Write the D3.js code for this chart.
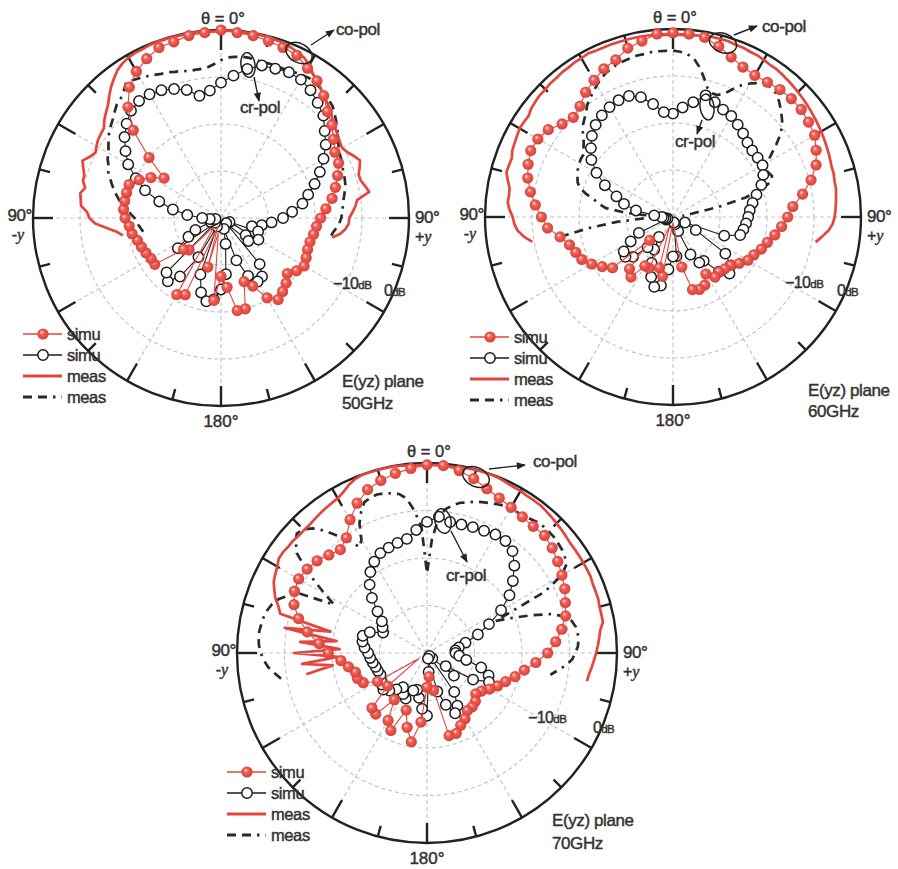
<!DOCTYPE html>
<html><head><meta charset="utf-8">
<script src="https://cdn.jsdelivr.net/npm/d3@7"></script>
<style>
body{margin:0;background:#fff}
svg{display:block}
text{font-family:"Liberation Sans",Arial,sans-serif;fill:#333;stroke:#333;stroke-width:0.45px}
</style>
</head><body>
<svg id="chart" width="898" height="869"></svg>
<script>
// ---------------- DATA (gain in dB, -40 .. 0) ----------------
// simulated patterns: theta = 0,5,...,355 deg (clockwise from top)
const simuAngles = d3.range(0, 360, 5);
// measured patterns: theta = -100 .. +100 deg, step 2.5
const measStart = -100, measStep = 2.5;

const simuCo50 = [
  0,-0.4,-0.6,-1,-1.4,-1.8,-3.2,-4.4,-6,-8,-9.2,-10.8,
  -12,-12.4,-13.6,-14.8,-16,-17.6,-18.8,-19.6,-20,-20.4,-20.4,-20,
  -19.6,-20.4,-21.6,-20.4,-19.6,-18.8,-20.4,-24,-25.6,-20,-20,-25.2,
  -27.6,-22.4,-36.8,-29.2,-38,-22,-21.2,-36,-37.6,-30.4,-29.6,-22.8,
  -22.8,-22.4,-22,-21.6,-20.8,-20.4,-19.6,-19.2,-19.2,-19.2,-19.2,-20.8,
  -22.8,-25.2,-20,-13.6,-9.2,-6,-4,-2.6,-1.4,-1.2,-0.6,-0.4];
const simuCr50 = [
  -11.2,-9.6,-7.8,-6.4,-6.2,-5.8,-6,-6.8,-8,-9.2,-11.2,-12.8,
  -14.8,-16.8,-18.8,-20.8,-22.4,-24.8,-26.8,-29.2,-31.2,-33.2,-31.6,-38,
  -30.8,-33.6,-32.4,-38.4,-27.2,-24.8,-24.4,-26.4,-30.4,-37.6,-34.4,-28,
  -24.8,-22.6,-22,-23.6,-27.2,-38,-30.4,-24.8,-22.4,-23.6,-38.4,-28.8,
  -32,-34,-37.6,-38.4,-38.8,-37.6,-36,-32.8,-29.6,-26.4,-22.8,-20,
  -17.2,-15.2,-13.2,-11.6,-10.2,-9.6,-9.6,-10,-10.8,-11.8,-13.6,-12.8];
const measCo50 = [
  -18.8,-17.6,-15.6,-13.2,-12,-11.5,-10.1,-9.9,-9.6,
  -10.4,-9.6,-9.5,-8.8,-8.1,-9.2,-9.9,-9.4,-9.0,
  -8.8,-8.6,-7.6,-6.8,-6,-4.8,-3.6,-2.6,-1.6,
  -1,-0.6,-0.4,-0.4,-0.2,-0.1,-0.2,-0.1,-0.2,
  -0.2,-0.1,-0.2,-0.3,-0.2,-0.1,-0.2,-0.2,-0.1,
  -0.2,-0.2,-0.4,-0.4,-0.8,-1.2,-1.6,-2.4,-3.6,
  -4.4,-5.2,-6,-6.6,-7.2,-8,-8.8,-9.2,-9.6,
  -10,-10.2,-9.7,-8.8,-8,-8.6,-9.3,-9.2,-8.6,
  -8,-10.8,-11.3,-12,-12.7,-12.8,-13.4,-14.4,-16];
const measCr50 = [
  -23.2,-22.8,-22.4,-22,-21.6,-20.8,-20,-18.8,-18,
  -17.2,-16.4,-15.6,-14.8,-14,-13.6,-12.8,-12.4,-11.6,
  -10.8,-10,-9.4,-8.8,-8,-7.2,-6.8,-6,-4.8,
  -5.2,-5.6,-6,-6.4,-6.8,-7,-7.4,-7.6,-8,
  -8,-8,-7.8,-7.2,-6.4,-5.8,-5.6,-5.4,-5.4,
  -5.6,-5.6,-5.6,-5.6,-5.6,-5.4,-5.2,-5,-4.8,
  -5,-5.2,-5.6,-6,-6.4,-7.2,-8,-8.8,-9.6,
  -10.4,-11,-11.4,-11.6,-12,-12.2,-12.4,-12.6,-13,
  -13.4,-13.8,-14,-14.2,-14.4,-14.8,-15.4,-16,-16.4];

const simuCo60 = [
  -0.8,-0.9,-1.2,-2.4,-3.8,-4.8,-5.2,-5,-4.6,-4.4,-4.4,-4.8,
  -5.2,-6.4,-7.6,-9.6,-12,-14.4,-15.6,-16.8,-18,-19.2,-20,-21,
  -21.6,-22.8,-24,-24.4,-24.8,-24.4,-26,-24,-23.6,-24,-29.2,-38,
  -38.8,-38,-27.2,-28.8,-38,-28,-28,-24.4,-25.6,-33,-23.2,-21.6,
  -20,-18.6,-18,-17.2,-15.6,-13.2,-12,-10.6,-9.2,-8,-7.2,-6.6,
  -6.8,-7.6,-9.2,-10,-9.2,-7.6,-6.4,-5.2,-4.4,-2.8,-2,-0.9];
const simuCr60 = [
  -18,-16.6,-15.2,-13.2,-14,-14.8,-15.2,-16,-16.8,-17.6,-18,-18,
  -18,-18.8,-20,-21.6,-22.8,-23.6,-24,-24.4,-24.8,-25.2,-28.4,-37.2,
  -34.4,-26.4,-24,-23,-24.8,-28.6,-28.8,-31.2,-36.8,-38.4,-38.8,-31.6,
  -31.6,-28.8,-25.2,-24.6,-26.4,-29.2,-32,-34.8,-31.6,-28,-26.8,-27.2,
  -29.6,-32,-38.4,-38.8,-38.4,-38,-37.6,-36,-32,-29.2,-27.2,-24,
  -21.2,-18.8,-17.2,-15.6,-14.4,-13.6,-13,-12.6,-12.6,-13.6,-15.6,-17.6];
const measCo60 = [
  -9.6,-8,-6.8,-6.2,-5.9,-5.2,-4.7,-4.8,-4.7,
  -4,-3.3,-3.4,-3.5,-3,-2.8,-2.6,-2.3,-2.4,
  -2.5,-2,-1.8,-1.6,-1.6,-1.4,-1.4,-1.2,-1.2,
  -1,-1,-0.8,-1,-1,-1,-1,-1,-1,
  -1,-1,-1.2,-1.2,-1.2,-1.2,-1.2,-1,-1,
  -0.8,-0.8,-0.8,-1,-1,-1.2,-1.2,-1.4,-1.6,
  -1.6,-1.8,-2,-2.2,-2.4,-2.6,-2.8,-3,-3.2,
  -3.4,-3.6,-3.8,-4,-4.2,-4.4,-4.6,-4.6,-4.8,
  -4.8,-5,-5.2,-5.4,-5.6,-6,-6.8,-8,-9.2];
const measCr60 = [
  -15.6,-22,-28,-34,-38.8,-36,-30,-25.6,-24,
  -22.8,-20.8,-19.2,-18.4,-18,-17.6,-17.2,-17,-16.8,
  -16.8,-16,-15.2,-14,-12.8,-12,-11.2,-10,-9.2,
  -8.4,-7.6,-6.8,-6.2,-5.8,-5.4,-5.2,-5,-4.8,
  -4.8,-4.6,-4.6,-4.6,-4.6,-4.8,-5.2,-6,-7.6,
  -9.6,-11.6,-12.4,-12.4,-11.6,-10,-8.4,-7.2,-6.2,
  -5.4,-5.4,-5.8,-6.6,-7.6,-8.6,-9.6,-11.2,-13.2,
  -15.2,-16.8,-18,-17.6,-17.2,-17.8,-20,-24,-30,
  -36,-38];

const simuCo70 = [
  -0.4,-0.4,-1,-2,-3.2,-4,-4.6,-5,-5.2,-5,-5.6,-6.4,
  -7.2,-8,-9,-9.8,-11.2,-12.8,-14.6,-17,-19.2,-20.8,-22.4,-23.6,
  -24.8,-26,-26.6,-25.6,-25.2,-25.2,-24,-23.2,-22,-22,-32,-35,
  -32.8,-25.4,-21,-23.8,-27.2,-22,-23.6,-28,-23.2,-23.6,-29.2,-38,
  -28,-25.2,-24.4,-24.4,-23.2,-21.8,-19.2,-17.2,-14.4,-12,-10.2,-9.2,
  -8.8,-9.2,-9.8,-10.8,-11.6,-10.4,-7.6,-5.2,-3.4,-2.4,-1.6,-1];
const simuCr70 = [
  -12.4,-11.2,-12,-12,-11.8,-11.6,-11.2,-11.2,-12,-14,-16.4,-18.8,
  -22,-25.6,-28.6,-31.6,-33.2,-34,-34,-33.2,-31.6,-28.2,-26.2,-25.6,
  -28.8,-35.2,-32.6,-38.4,-39.2,-30,-27.2,-26,-28.4,-31.6,-38.8,-36,
  -26.8,-28.2,-30.4,-32,-31.6,-29.4,-30,-31.2,-30,-28.8,-28,-28.4,
  -28.8,-29.2,-29,-28.8,-28.4,-28,-27.6,-26.8,-26.2,-26,-27.2,-29.8,
  -29.2,-28.4,-26.4,-23.6,-21.2,-19.2,-17.8,-16.8,-16.4,-16,-15.6,-14];
const measCo70 = [
  -14.2,-20,-13.6,-21.2,-12,-21.6,-13.2,-20.8,-9.6,
  -19.2,-8,-7.2,-6,-5.2,-4.4,-4,-3.6,-3,
  -3,-3.2,-3.2,-3.4,-3.4,-3.4,-3.2,-3,-2.8,
  -2.6,-2.4,-1.8,-1,-0.4,-0.1,-0.1,-0.1,-0.1,
  -0.1,-0.2,-0.4,-0.4,-0.4,-0.4,-0.4,-0.4,-0.4,
  -0.2,-0.1,-0.1,-0.1,-0.2,-0.4,-0.6,-0.6,-0.8,
  -0.8,-0.8,-1,-1.2,-1.4,-1.6,-1.8,-2,-2,
  -2,-2,-2,-2,-2.2,-2.2,-2.2,-2.4,-2.4,
  -2.4,-3.2,-3.6,-4,-4.4,-4.8,-5.2,-5.6,-5.8];
const measCr70 = [
  -8.8,-7.6,-6.4,-5.6,-5,-4.6,-4.4,-4.4,-4.6,
  -4.8,-5.2,-5.8,-6.8,-8.4,-10.4,-18,-15.2,-12,
  -8.8,-5.4,-4,-2.8,-3.2,-4.4,-6.4,-8.8,-10.8,
  -13.6,-12.4,-9.2,-7.2,-5.6,-5.2,-5,-5.2,-5.6,
  -6,-7.2,-10,-13.6,-23.2,-16,-11.2,-9.4,-8.4,
  -7.6,-7.2,-6.6,-6.2,-5.8,-5.4,-5,-5,-4.8,
  -4.8,-4.4,-4,-3.8,-3.8,-3.8,-4,-4.2,-4.6,
  -5.2,-7.2,-12,-24,-20.8,-16.8,-12.8,-10,-8.8,
  -8.2,-8,-8,-8.2,-8.8,-9.4,-10.6,-12.2,-13.6];

// axis definitions
const dbDomain = [-40, 0];
const ringDb = [-30, -20, -10];
const spokeAngles = d3.range(0, 360, 30);
const tickAngles = d3.range(0, 360, 15);
const legendLabels = ["simu", "simu", "meas", "meas"];
const freqLabels = ["50GHz", "60GHz", "70GHz"];

// ---------------- LAYOUT ----------------
const panels = [
  {cx:221, cy:218, R:188, data:[simuCo50, simuCr50, measCo50, measCr50], freq:freqLabels[0],
   leg:[23,334], title:[342,387,409], m10:[333,289], z0:[384,296],
   coEll:[299,53,14,9.5,28], coArrow:[[311,45],[334,30]], coText:[336,35],
   crEll:[248,65,7,12.5,-8], crArrow:[[254,77],[259,101]], crText:[240,113]},
  {cx:673, cy:217, R:188, data:[simuCo60, simuCr60, measCo60, measCr60], freq:freqLabels[1],
   leg:[470,337], title:[808,396,417], m10:[785,288], z0:[837,296],
   coEll:[723,43,14,9.5,20], coArrow:[[734,35],[757,26]], coText:[762,32],
   crEll:[707,107,7,13,-8], crArrow:[[702,120],[697,134]], crText:[675,147]},
  {cx:427, cy:653, R:190, data:[simuCo70, simuCr70, measCo70, measCr70], freq:freqLabels[2],
   leg:[227,772], title:[552,826,849], m10:[528,723], z0:[593,733],
   coEll:[476,477,14,9.5,25], coArrow:[[489,469],[525,465]], coText:[533,467],
   crEll:[443,521,8,12.5,-12], crArrow:[[451,531],[467,562]], crText:[446,581]}
];

const RED = "#e2463e", BLACK = "#1c1c1c", GRID = "#c2c5cd";

const svg = d3.select("#chart");
const defs = svg.append("defs");
const grad = defs.append("radialGradient").attr("id","ball")
  .attr("cx","50%").attr("cy","50%").attr("r","55%").attr("fx","36%").attr("fy","32%");
grad.append("stop").attr("offset","0%").attr("stop-color","#ffe3df");
grad.append("stop").attr("offset","35%").attr("stop-color","#f06258");
grad.append("stop").attr("offset","100%").attr("stop-color","#d23b33");
defs.append("marker").attr("id","arrow").attr("viewBox","0 0 10 10")
  .attr("refX",9).attr("refY",5).attr("markerWidth",10).attr("markerHeight",9)
  .attr("markerUnits","userSpaceOnUse").attr("orient","auto")
  .append("path").attr("d","M0,1 L10,5 L0,9 Z").attr("fill","#222");

const rad = a => a * Math.PI / 180;

function drawPanel(p) {
  const g = svg.append("g").attr("transform", `translate(${p.cx},${p.cy})`);
  const r = d3.scaleLinear().domain(dbDomain).range([0, p.R]).clamp(true);
  const pt = (a, rr) => [rr * Math.sin(rad(a)), -rr * Math.cos(rad(a))];

  // grid
  g.selectAll("circle.ring").data(ringDb).join("circle").attr("class","ring")
    .attr("r", d => r(d)).attr("fill","none").attr("stroke",GRID)
    .attr("stroke-width",1.2).attr("stroke-dasharray","4,3");
  g.selectAll("line.spoke").data(spokeAngles).join("line").attr("class","spoke")
    .attr("x1",0).attr("y1",0)
    .attr("x2", d => pt(d, r(0))[0]).attr("y2", d => pt(d, r(0))[1])
    .attr("stroke",GRID).attr("stroke-width",1.2).attr("stroke-dasharray","4,3");
  g.append("circle").attr("r",3.2).attr("fill","#c4c4c8");

  // outer circle + ticks
  g.append("circle").attr("r", r(0)).attr("fill","none").attr("stroke","#222").attr("stroke-width",2.4);
  g.selectAll("line.tick").data(tickAngles).join("line").attr("class","tick")
    .attr("x1", d => pt(d, r(0))[0]).attr("y1", d => pt(d, r(0))[1])
    .attr("x2", d => pt(d, r(0) - (d % 30 === 0 ? 20 : 11))[0])
    .attr("y2", d => pt(d, r(0) - (d % 30 === 0 ? 20 : 11))[1])
    .attr("stroke","#222").attr("stroke-width",2.4);

  const [sCo, sCr, mCo, mCr] = p.data;
  const simuPts = arr => arr.map((v, i) => ({a: simuAngles[i], v}));
  const measPts = arr => arr.map((v, i) => ({a: measStart + i * measStep, v}));
  const lineOpen = d3.lineRadial().angle(d => rad(d.a)).radius(d => r(d.v));
  const lineClosed = d3.lineRadial().angle(d => rad(d.a)).radius(d => r(d.v)).curve(d3.curveLinearClosed);

  // measured cross-pol (dashed)
  g.append("path").attr("d", lineOpen(measPts(mCr))).attr("fill","none")
    .attr("stroke","#2a2a2a").attr("stroke-width",2.7)
    .attr("stroke-dasharray","9,6,9,6,2.5,6");
  // measured co-pol (solid red)
  g.append("path").attr("d", lineOpen(measPts(mCo))).attr("fill","none")
    .attr("stroke",RED).attr("stroke-width",2.7).attr("stroke-linejoin","round");

  // simulated cross-pol
  const crP = simuPts(sCr);
  g.append("path").attr("d", lineClosed(crP)).attr("fill","none")
    .attr("stroke",BLACK).attr("stroke-width",1.1);
  g.selectAll("circle.cr").data(crP).join("circle").attr("class","cr")
    .attr("cx", d => pt(d.a, r(d.v))[0]).attr("cy", d => pt(d.a, r(d.v))[1])
    .attr("r",5.2).attr("fill","#fff").attr("stroke",BLACK).attr("stroke-width",1.5);

  // simulated co-pol
  const coP = simuPts(sCo);
  g.append("path").attr("d", lineClosed(coP)).attr("fill","none")
    .attr("stroke",RED).attr("stroke-width",1.1);
  g.selectAll("circle.co").data(coP.filter(d => d.v > -35.5)).join("circle").attr("class","co")
    .attr("cx", d => pt(d.a, r(d.v))[0]).attr("cy", d => pt(d.a, r(d.v))[1])
    .attr("r",5.6).attr("fill","url(#ball)");

  // axis labels
  const T = svg.append("g");
  T.append("text").attr("x", p.cx + 2).attr("y", p.cy - p.R - 6).attr("text-anchor","middle")
    .attr("font-size",16.5).text("θ = 0°");
  T.append("text").attr("x", p.cx).attr("y", p.cy + p.R + 21).attr("text-anchor","middle")
    .attr("font-size",17).text("180°");
  T.append("text").attr("x", p.cx - p.R - 1).attr("y", p.cy + 3).attr("text-anchor","end")
    .attr("font-size",17).attr("letter-spacing",-0.4).text("90°");
  const ly = T.append("text").attr("x", p.cx - p.R - 15).attr("y", p.cy + 22).attr("text-anchor","middle").attr("font-size",16);
  ly.append("tspan").text("-");
  ly.append("tspan").attr("font-family","'Liberation Serif',serif").attr("font-style","italic").text("y");
  T.append("text").attr("x", p.cx + p.R + 6).attr("y", p.cy + 5)
    .attr("font-size",17).attr("letter-spacing",-0.4).text("90°");
  const ry = T.append("text").attr("x", p.cx + p.R + 6).attr("y", p.cy + 24).attr("font-size",16);
  ry.append("tspan").text("+");
  ry.append("tspan").attr("font-family","'Liberation Serif',serif").attr("font-style","italic").text("y");

  const m10 = T.append("text").attr("x", p.m10[0]).attr("y", p.m10[1]).attr("letter-spacing",-0.6);
  m10.append("tspan").attr("font-size",16).text("−10");
  m10.append("tspan").attr("font-size",11.5).text("dB");
  const z0 = T.append("text").attr("x", p.z0[0]).attr("y", p.z0[1]).attr("letter-spacing",-0.6);
  z0.append("tspan").attr("font-size",16).text("0");
  z0.append("tspan").attr("font-size",11.5).text("dB");

  T.append("text").attr("x", p.title[0]).attr("y", p.title[1]).attr("font-size",17).attr("letter-spacing",-0.4).text("E(yz) plane");
  T.append("text").attr("x", p.title[0]).attr("y", p.title[2]).attr("font-size",17).attr("letter-spacing",-0.4).text(p.freq);

  // annotations
  const ann = (ell, arrow, txt, label) => {
    T.append("ellipse").attr("cx", ell[0]).attr("cy", ell[1]).attr("rx", ell[2]).attr("ry", ell[3])
      .attr("transform", `rotate(${ell[4]},${ell[0]},${ell[1]})`)
      .attr("fill","none").attr("stroke","#222").attr("stroke-width",1.5);
    T.append("line").attr("x1", arrow[0][0]).attr("y1", arrow[0][1]).attr("x2", arrow[1][0]).attr("y2", arrow[1][1])
      .attr("stroke","#222").attr("stroke-width",1.4).attr("marker-end","url(#arrow)");
    T.append("text").attr("x", txt[0]).attr("y", txt[1]).attr("font-size",17).attr("letter-spacing",-0.4).text(label);
  };
  ann(p.coEll, p.coArrow, p.coText, "co-pol");
  ann(p.crEll, p.crArrow, p.crText, "cr-pol");

  // legend
  const L = svg.append("g").attr("transform", `translate(${p.leg[0]},${p.leg[1]})`);
  legendLabels.forEach((lab, i) => {
    const y = i * 21;
    const row = L.append("g").attr("transform", `translate(0,${y})`);
    if (i === 0) {
      row.append("line").attr("x1",0).attr("x2",39).attr("stroke",RED).attr("stroke-width",1.3);
      row.append("circle").attr("cx",20).attr("r",5.6).attr("fill","url(#ball)");
    } else if (i === 1) {
      row.append("line").attr("x1",0).attr("x2",39).attr("stroke",BLACK).attr("stroke-width",1.3);
      row.append("circle").attr("cx",20).attr("r",5.2).attr("fill","#fff").attr("stroke",BLACK).attr("stroke-width",1.5);
    } else if (i === 2) {
      row.append("line").attr("x1",0).attr("x2",39).attr("stroke",RED).attr("stroke-width",3);
    } else {
      row.append("line").attr("x1",0).attr("x2",39).attr("stroke","#2a2a2a").attr("stroke-width",3)
        .attr("stroke-dasharray","9,6,9,6,2.5,6");
    }
    row.append("text").attr("x",44).attr("y",6).attr("font-size",16.5).attr("letter-spacing",-0.4).text(lab);
  });
}

panels.forEach(drawPanel);
</script>
</body></html>
